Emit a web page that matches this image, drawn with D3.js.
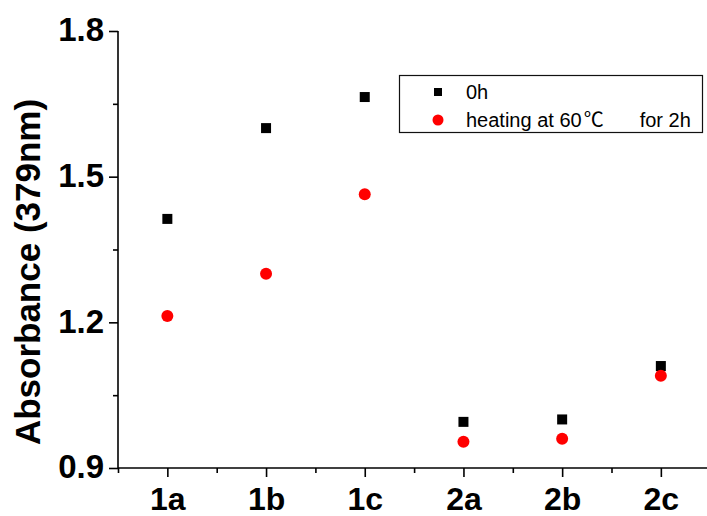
<!DOCTYPE html>
<html>
<head>
<meta charset="utf-8">
<script src="https://cdn.jsdelivr.net/npm/d3@7"></script>
<style>
  body { margin: 0; background: #fff; }
  svg { display: block; font-family: "Liberation Sans", Arial, "Noto Sans CJK SC", sans-serif; }
</style>
</head>
<body>
<div id="chart"></div>
<script>
// datos
const categories = ["1a", "1b", "1c", "2a", "2b", "2c"];
const values0h = [1.413, 1.600, 1.664, 0.995, 1.000, 1.110];
const valuesHeat = [1.213, 1.300, 1.464, 0.954, 0.960, 1.090];
const yTicks = [0.9, 1.2, 1.5, 1.8];
const yMinorTicks = [1.05, 1.35, 1.65];
const seriesNames = ["0h", "heating at 60"];

const W = 707, H = 516;
const plot = { left: 118, top: 31, bottom: 468, step: 98.7 };

const svg = d3.select("#chart").append("svg")
  .attr("width", W)
  .attr("height", H);

const x = d3.scaleLinear()
  .domain([0, categories.length])
  .range([plot.left, plot.left + plot.step * categories.length]);

const y = d3.scaleLinear()
  .domain([0.9, 1.8])
  .range([plot.bottom, plot.top]);

// eje X
const xMajor = categories.map((c, i) => i + 0.5);
const xMinor = d3.range(0, categories.length + 1);

const gx = svg.append("g")
  .attr("transform", `translate(0,${plot.bottom})`);
gx.call(d3.axisBottom(x).tickValues(xMinor).tickSize(5).tickFormat(""));
gx.append("g").call(d3.axisBottom(x).tickValues(xMajor).tickSize(9)
    .tickFormat((d, i) => categories[i]).tickPadding(10))
  .call(g => g.select(".domain").remove())
  .selectAll("text")
    .attr("font-size", 32)
    .attr("font-weight", "bold")
    .attr("fill", "#000")
    .attr("font-family", "Liberation Sans, Arial, sans-serif");

// eje Y
const gy = svg.append("g")
  .attr("transform", `translate(${plot.left},0)`);
gy.call(d3.axisLeft(y).tickValues(yMinorTicks).tickSize(5).tickFormat(""));
gy.append("g").call(d3.axisLeft(y).tickValues(yTicks).tickSize(9)
    .tickFormat(d3.format(".1f")).tickPadding(5))
  .call(g => g.select(".domain").remove())
  .selectAll("text")
    .attr("font-size", 33)
    .attr("font-weight", "bold")
    .attr("fill", "#000")
    .attr("dy", "0.3em")
    .attr("font-family", "Liberation Sans, Arial, sans-serif");

svg.selectAll(".domain, .tick line")
  .attr("stroke", "#000")
  .attr("stroke-width", 1.6);

gy.select(".domain").attr("d", `M0,${plot.bottom}V${plot.top}`);
gx.select(".domain").attr("d", `M${plot.left},0H${W}`);

svg.append("text")
  .attr("transform", `translate(40,272) rotate(-90)`)
  .attr("text-anchor", "middle")
  .attr("font-size", 35)
  .attr("font-weight", "bold")
  .text("Absorbance (379nm)");

// puntos
const sq = 10;
svg.append("g").selectAll("rect")
  .data(values0h).enter()
  .append("rect")
  .attr("x", (d, i) => x(i + 0.5) - sq / 2)
  .attr("y", d => y(d) - sq / 2)
  .attr("width", sq)
  .attr("height", sq)
  .attr("fill", "#000");

svg.append("g").selectAll("circle")
  .data(valuesHeat).enter()
  .append("circle")
  .attr("cx", (d, i) => x(i + 0.5))
  .attr("cy", d => y(d))
  .attr("r", 6)
  .attr("fill", "#ff0000");

// leyenda
const legend = svg.append("g");
legend.append("rect")
  .attr("x", 399.5).attr("y", 75.5)
  .attr("width", 303).attr("height", 57)
  .attr("fill", "none")
  .attr("stroke", "#111")
  .attr("stroke-width", 1.2);
legend.append("rect")
  .attr("x", 434).attr("y", 88)
  .attr("width", 8).attr("height", 8)
  .attr("fill", "#000");
legend.append("circle")
  .attr("cx", 438).attr("cy", 120)
  .attr("r", 5.5)
  .attr("fill", "#ff0000");
const lt = legend.selectAll("text.lg")
  .data(seriesNames).enter()
  .append("text")
  .attr("class", "lg")
  .attr("x", 466)
  .attr("y", (d, i) => 99 + i * 28)
  .attr("font-size", 20)
  .text(d => d);
lt.filter((d, i) => i === 1).append("tspan")
  .attr("font-family", "Noto Sans CJK SC")
  .attr("dx", 2)
  .text("\u2103");
lt.filter((d, i) => i === 1).append("tspan")
  .attr("dx", 36)
  .text("for 2h");
</script>
</body>
</html>
